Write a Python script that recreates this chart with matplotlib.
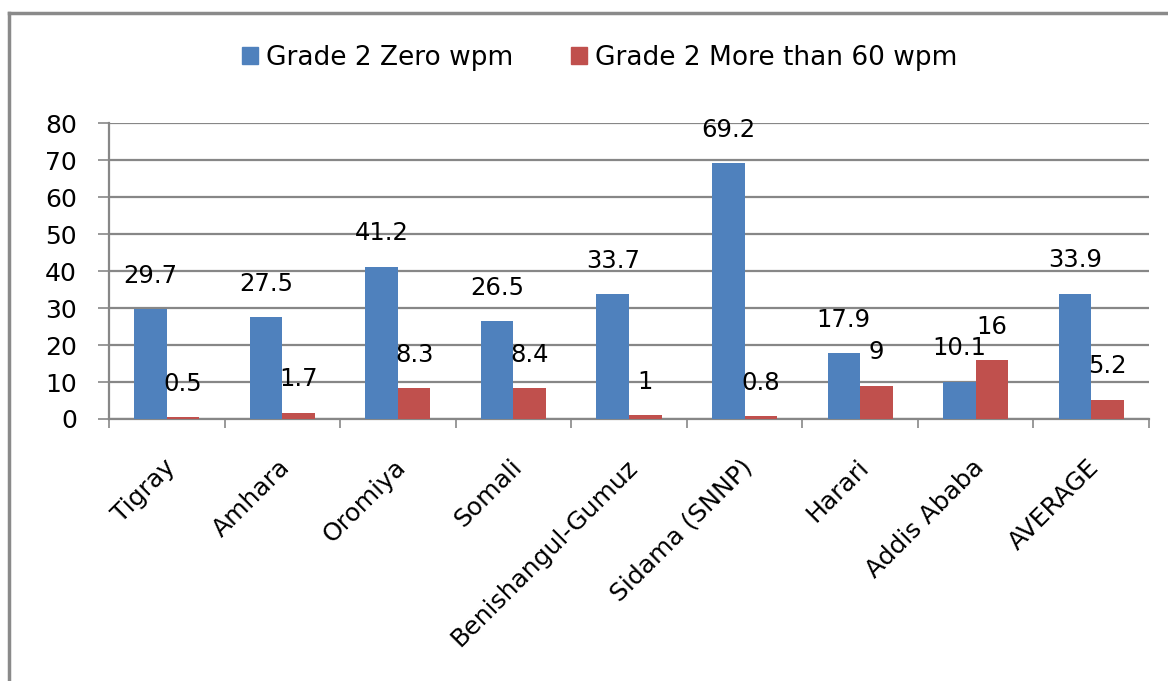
import matplotlib
matplotlib.use("Agg")
import matplotlib.pyplot as plt
import matplotlib.transforms as mtransforms
from matplotlib.lines import Line2D
from matplotlib.patches import Patch
import numpy as np

categories = ["Tigray", "Amhara", "Oromiya", "Somali", "Benishangul-Gumuz",
              "Sidama (SNNP)", "Harari", "Addis Ababa", "AVERAGE"]
zero_wpm = [29.7, 27.5, 41.2, 26.5, 33.7, 69.2, 17.9, 10.1, 33.9]
more60_wpm = [0.5, 1.7, 8.3, 8.4, 1, 0.8, 9, 16, 5.2]
zero_labels = ["29.7", "27.5", "41.2", "26.5", "33.7", "69.2", "17.9", "10.1", "33.9"]
more60_labels = ["0.5", "1.7", "8.3", "8.4", "1", "0.8", "9", "16", "5.2"]
series_names = ["Grade 2 Zero wpm", "Grade 2 More than 60 wpm"]
yticks = [0, 10, 20, 30, 40, 50, 60, 70, 80]

BLUE = "#4F81BD"
RED = "#C0504D"
GRID = "#878787"
plt.rcParams['font.family'] = ["DejaVu Sans"]

W, H = 1168, 681
fig = plt.figure(figsize=(W / 100, H / 100), dpi=100)
ax = fig.add_axes([109 / W, 1 - 419 / H, (1149 - 109) / W, (419 - 123.3) / H])

x = np.arange(len(categories))
bw = 32.5 / 115.5
b1 = ax.bar(x - bw / 2, zero_wpm, bw, color=BLUE, zorder=3)
b2 = ax.bar(x + bw / 2, more60_wpm, bw, color=RED, zorder=3)

for rects, labels in ((b1, zero_labels), (b2, more60_labels)):
    for r, lab in zip(rects, labels):
        ax.annotate(lab, (r.get_x() + r.get_width() / 2, r.get_height()),
                    xytext=(0, 24), textcoords="offset points",
                    ha="center", va="center", fontsize=17.5, color="black", zorder=4)

ax.set_xlim(-0.5, len(categories) - 0.5)
ax.set_ylim(0, 80)
ax.set_yticks(yticks)
ax.yaxis.grid(True, color=GRID, linewidth=1.6, zorder=0)
ax.tick_params(axis="y", length=8, width=1.2, color=GRID, labelsize=18, pad=15, direction="out")

# category boundary ticks
ax.set_xticks(np.arange(len(categories) + 1) - 0.5, minor=False)
ax.set_xticklabels([])
ax.tick_params(axis="x", which="major", length=6.5, width=1.2, color=GRID, direction="out")
ax.set_xticks(x, minor=True)
ax.set_xticklabels(categories, minor=True, rotation=45, ha="right", va="top",
                   rotation_mode="anchor", fontsize=18)
ax.tick_params(axis="x", which="minor", length=0, pad=26)
shift = mtransforms.ScaledTranslation(-4 / 100, 0, fig.dpi_scale_trans)
for lab in ax.get_xticklabels(minor=True):
    lab.set_transform(lab.get_transform() + shift)

for s in ("top", "right"):
    ax.spines[s].set_visible(False)
for s in ("left", "bottom"):
    ax.spines[s].set_color(GRID)
    ax.spines[s].set_linewidth(1.6)

handles = [Patch(color=BLUE), Patch(color=RED)]
fig.legend(handles, series_names, loc="center", bbox_to_anchor=(600 / W, 1 - 58 / H),
           ncol=2, frameon=False, fontsize=19, handlelength=0.6, handleheight=0.6,
           handletextpad=0.3, columnspacing=2.2, borderpad=0, borderaxespad=0)

# outer chart border (partially cropped)
fig.add_artist(Line2D([9 / W, 9 / W], [0, 1 - 13 / H], color="#8a8a8a", linewidth=2.5,
                      transform=fig.transFigure))
fig.add_artist(Line2D([9 / W, 1], [1 - 13 / H, 1 - 13 / H], color="#8a8a8a", linewidth=2.5,
                      transform=fig.transFigure))

fig.savefig("out.png", dpi=100)
